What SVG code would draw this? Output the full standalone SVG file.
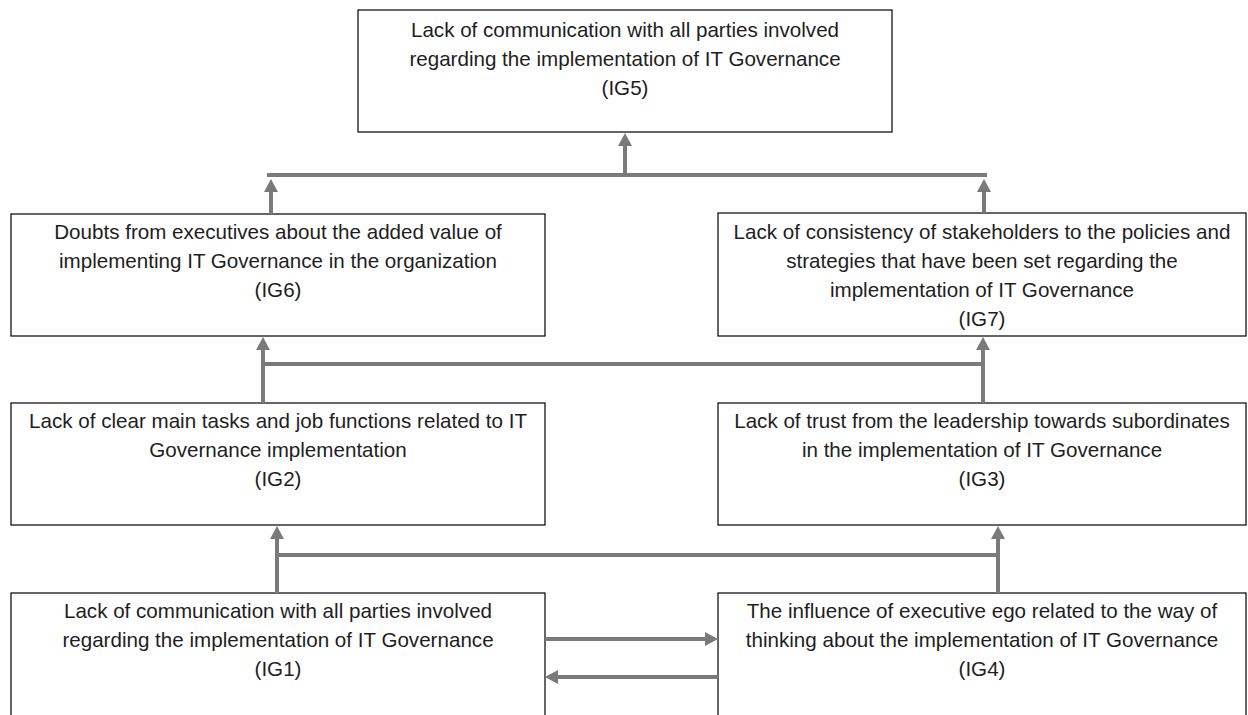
<svg xmlns="http://www.w3.org/2000/svg" width="1248" height="715" viewBox="0 0 1248 715">
  <style>
    .box { fill: #ffffff; stroke: #000000; stroke-width: 1.2; }
    .t { font-family: "Liberation Sans", Arial, sans-serif; font-size: 20.6px; fill: #1e1e1e; text-anchor: middle; }
    .c { fill: none; stroke: #7a7a7a; stroke-width: 4; }
    .a { fill: none; stroke: #7a7a7a; stroke-width: 4; marker-end: url(#ah); }
  </style>
  <defs>
    <marker id="ah" markerUnits="userSpaceOnUse" markerWidth="15" markerHeight="15" refX="2" refY="7" orient="auto">
      <path d="M0,0 L13,7 L0,14 z" fill="#7a7a7a"/>
    </marker>
  </defs>
  <rect width="1248" height="715" fill="#ffffff"/>

  <g id="IG5">
    <rect class="box" x="358" y="10" width="534" height="122"/>
    <text class="t" x="625" y="37">Lack of communication with all parties involved</text>
    <text class="t" x="625" y="66">regarding the implementation of IT Governance</text>
    <text class="t" x="625" y="95">(IG5)</text>
  </g>
  <g id="IG6">
    <rect class="box" x="11" y="214" width="534" height="122"/>
    <text class="t" x="278" y="239">Doubts from executives about the added value of</text>
    <text class="t" x="278" y="268">implementing IT Governance in the organization</text>
    <text class="t" x="278" y="297">(IG6)</text>
  </g>
  <g id="IG7">
    <rect class="box" x="718" y="213" width="528" height="123"/>
    <text class="t" x="982" y="239">Lack of consistency of stakeholders to the policies and</text>
    <text class="t" x="982" y="268">strategies that have been set regarding the</text>
    <text class="t" x="982" y="297">implementation of IT Governance</text>
    <text class="t" x="982" y="326">(IG7)</text>
  </g>
  <g id="IG2">
    <rect class="box" x="11" y="403" width="534" height="122"/>
    <text class="t" x="278" y="428">Lack of clear main tasks and job functions related to IT</text>
    <text class="t" x="278" y="457">Governance implementation</text>
    <text class="t" x="278" y="486">(IG2)</text>
  </g>
  <g id="IG3">
    <rect class="box" x="718" y="403" width="528" height="122"/>
    <text class="t" x="982" y="428">Lack of trust from the leadership towards subordinates</text>
    <text class="t" x="982" y="457">in the implementation of IT Governance</text>
    <text class="t" x="982" y="486">(IG3)</text>
  </g>
  <g id="IG1">
    <rect class="box" x="11" y="593" width="534" height="130"/>
    <text class="t" x="278" y="618">Lack of communication with all parties involved</text>
    <text class="t" x="278" y="647">regarding the implementation of IT Governance</text>
    <text class="t" x="278" y="676">(IG1)</text>
  </g>
  <g id="IG4">
    <rect class="box" x="718" y="593" width="528" height="130"/>
    <text class="t" x="982" y="618">The influence of executive ego related to the way of</text>
    <text class="t" x="982" y="647">thinking about the implementation of IT Governance</text>
    <text class="t" x="982" y="676">(IG4)</text>
  </g>

  <g id="connectors">
    <!-- level 1: IG6, IG7 -> IG5 -->
    <path class="a" d="M271,214 V190"/>
    <path class="a" d="M984,213 V190"/>
    <path class="c" d="M267,175 H987"/>
    <path class="a" d="M625,175 V144"/>
    <!-- level 2: IG2, IG3 -> IG6, IG7 -->
    <path class="a" d="M263,403 V348"/>
    <path class="a" d="M983,403 V348"/>
    <path class="c" d="M263,364 H983"/>
    <!-- level 3: IG1, IG4 -> IG2, IG3 -->
    <path class="a" d="M277,593 V537"/>
    <path class="a" d="M998,593 V537"/>
    <path class="c" d="M277,555 H998"/>
    <!-- IG1 <-> IG4 -->
    <path class="a" d="M545,639 H707"/>
    <path class="a" d="M718,677 H556"/>
  </g>
</svg>
